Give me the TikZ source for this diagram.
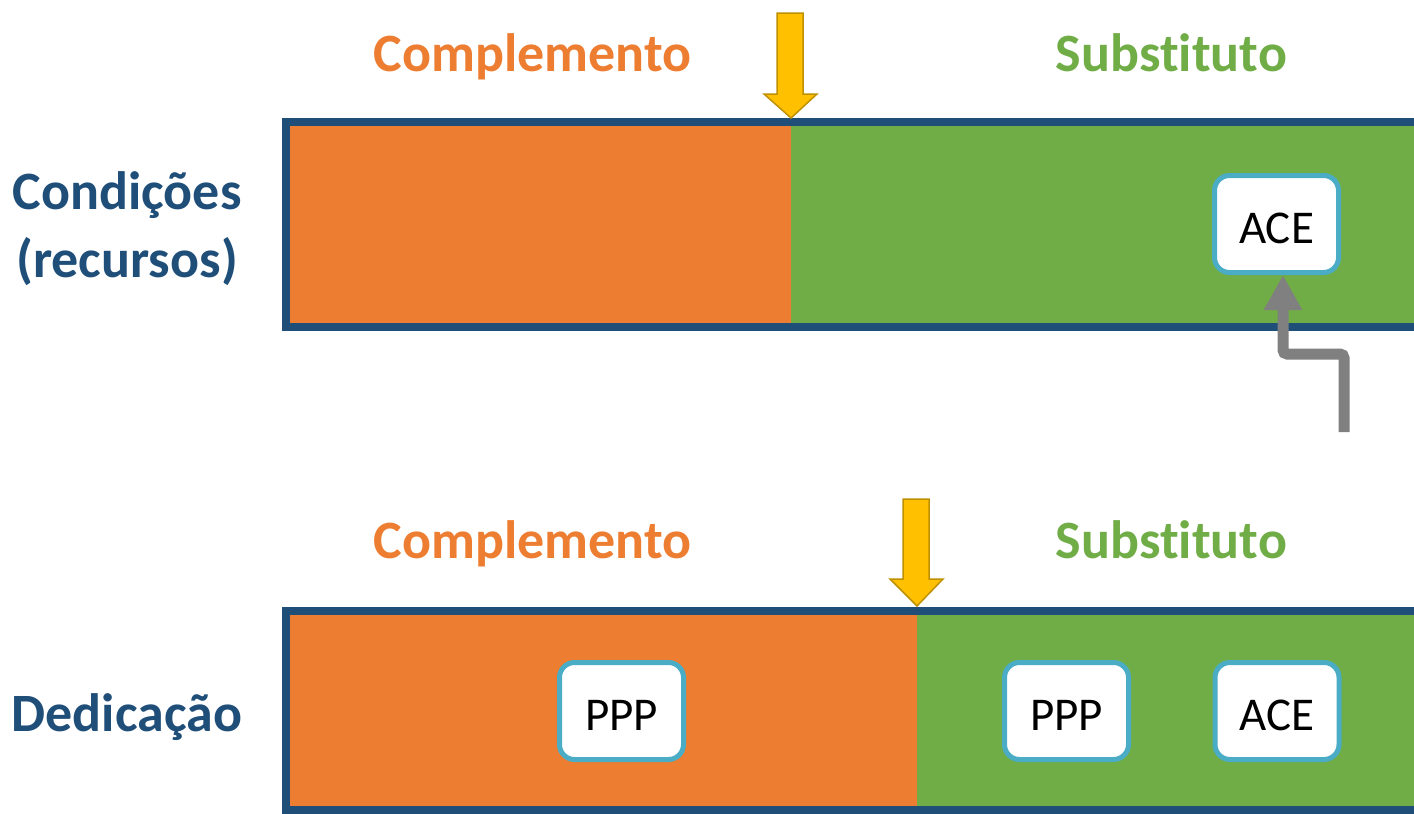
\documentclass[tikz,border=0pt]{standalone}
\usepackage{fontspec}
\setmainfont[RawFeature={-liga}]{Carlito}
\usetikzlibrary{arrows.meta,calc}
\definecolor{orng}{HTML}{ED7D31}
\definecolor{grn}{HTML}{70AD47}
\definecolor{dblue}{HTML}{1F4E79}
\definecolor{ylw}{HTML}{FFC000}
\definecolor{ylwd}{HTML}{BF9000}
\definecolor{lblue}{HTML}{4BACC6}
\definecolor{gry}{HTML}{808080}
\tikzset{
  bigtxt/.style={font=\fontsize{54}{68}\selectfont\bfseries, inner sep=0pt, anchor=base},
  sidetxt/.style={font=\fontsize{54}{68}\selectfont\bfseries, text=dblue, inner sep=0pt, align=center},
  tagbox/.style={draw=lblue, line width=5pt, fill=white, rounded corners=15pt, minimum width=124pt, minimum height=97pt, inner sep=0pt, text height=38pt, text depth=0pt, font=\fontsize{47}{50}\selectfont},
  bar/.style={draw=dblue, line width=8pt},
  ylwarrow/.style={fill=ylw, draw=ylwd, line width=1.5pt, line join=miter},
  grayarrow/.style={draw=gry, line width=11pt, rounded corners=4pt, -{Triangle[width=36pt,length=35pt]}}
}
\begin{document}
\begin{tikzpicture}[x=1pt,y=-1pt]
\clip (0,0) rectangle (1414,814);
% top bar
\fill[orng] (286,122) rectangle (791,327);
\fill[grn] (791,122) rectangle (1450,327);
\draw[bar] (1450,122) -- (286,122) -- (286,327) -- (1450,327);
% bottom bar
\fill[orng] (286,610.5) rectangle (917,810);
\fill[grn] (917,610.5) rectangle (1450,810);
\draw[bar] (1450,610.5) -- (286,610.5) -- (286,810) -- (1450,810);
% yellow arrows
\draw[ylwarrow] (777,13) -- (803,13) -- (803,94) -- (817,94) -- (791,118) -- (764,94) -- (777,94) -- cycle;
\draw[ylwarrow] (903,499) -- (929,499) -- (929,579) -- (943,579) -- (917,606) -- (890,579) -- (903,579) -- cycle;
% headings
\node[bigtxt, text=orng] (c1) at (532.5,71) {Complemento};
\node[bigtxt, text=grn] (s1) at (1171.5,71) {Substituto};
\node[bigtxt, text=orng] (c2) at (532.5,558) {Complemento};
\node[bigtxt, text=grn] (s2) at (1171.5,558) {Substituto};
% side labels
\node[sidetxt] (cond) at (127,229) {Condições\\(recursos)};
\node[sidetxt] (ded) at (127,717) {Dedicação};
% boxes
\node[tagbox] (ace1) at (1276.5,224) {ACE};
\node[tagbox] (ppp1) at (621.5,711) {PPP};
\node[tagbox] (ppp2) at (1066.5,711) {PPP};
\node[tagbox] (ace2) at (1277,711) {ACE};
% gray arrow
\coordinate (gs) at (1344,432);
\coordinate (gt) at ($(ace1.south)+(6.5,0)$);
\draw[grayarrow] (gs) |- ($(gt)+(0,79)$) -- (gt);
\end{tikzpicture}
\end{document}
